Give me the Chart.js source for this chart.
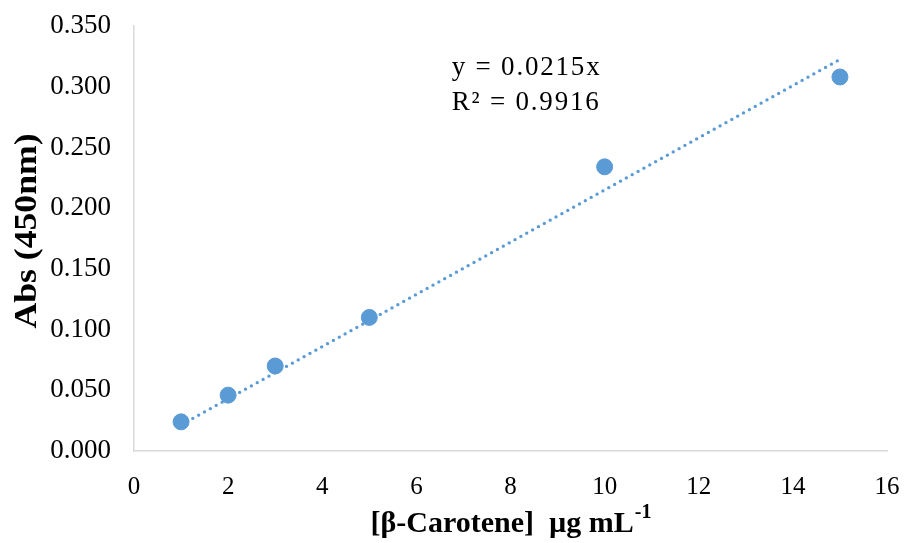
<!DOCTYPE html>
<html>
<head>
<meta charset="utf-8">
<script src="https://cdn.jsdelivr.net/npm/chart.js@4"></script>
<style>
  html, body { margin: 0; padding: 0; background: #fff; }
  #wrap { width: 909px; height: 543px; }
</style>
</head>
<body>
<div id="wrap"><canvas id="c" width="909" height="543"></canvas></div>
<script>
// β-carotene calibration data
const concentrations = [1, 2, 3, 5, 10, 15];                    // µg/mL
const absorbances = [0.024, 0.046, 0.070, 0.110, 0.234, 0.308]; // Abs at 450 nm
const slope = 0.0215;
const rSquared = 0.9916;
const trendX = [1, 15];
const xTicks = [0, 2, 4, 6, 8, 10, 12, 14, 16];
const yTicks = [0, 0.05, 0.1, 0.15, 0.2, 0.25, 0.3, 0.35];

const blue = '#5B9BD5';
const serif = '"Liberation Serif", "Times New Roman", serif';

const points = concentrations.map((x, i) => ({ x, y: absorbances[i] }));
const trend = trendX.map(x => ({ x, y: slope * x }));

// axis titles and the regression equation
const annotations = {
  id: 'annotations',
  afterDraw(chart) {
    const { ctx, chartArea } = chart;
    const xs = chart.scales.x;
    ctx.save();
    ctx.fillStyle = '#000';

    // regression equation
    const left = xs.getPixelForValue(6.75);
    ctx.font = '27px ' + serif;
    ctx.textAlign = 'left';
    ctx.textBaseline = 'alphabetic';
    ctx.letterSpacing = '1.8px';
    ctx.fillText('y = ' + slope.toFixed(4) + 'x', left, 75);
    ctx.fillText('R² = ' + rSquared.toFixed(4), left, 110);
    ctx.letterSpacing = '0px';

    // y axis title, slightly stretched along its length
    ctx.font = 'bold 31px ' + serif;
    ctx.textAlign = 'center';
    ctx.textBaseline = 'middle';
    ctx.translate(28, 231);
    ctx.rotate(-Math.PI / 2);
    ctx.scale(1.15, 1);
    ctx.fillText('Abs (450nm)', 0, 0);
    ctx.setTransform(1, 0, 0, 1, 0, 0);

    // x axis title with superscript
    const main = '[β-Carotene]  µg mL';
    const sup = '-1';
    ctx.font = 'bold 30px ' + serif;
    const wMain = ctx.measureText(main).width;
    ctx.font = 'bold 20px ' + serif;
    const wSup = ctx.measureText(sup).width;
    const cx = (chartArea.left + chartArea.right) / 2;
    const startX = cx - (wMain + wSup) / 2;
    ctx.textAlign = 'left';
    ctx.textBaseline = 'alphabetic';
    ctx.font = 'bold 30px ' + serif;
    ctx.fillText(main, startX, 532);
    ctx.font = 'bold 20px ' + serif;
    ctx.fillText(sup, startX + wMain + 1, 518);
    ctx.restore();
  }
};

new Chart(document.getElementById('c'), {
  type: 'scatter',
  data: {
    datasets: [
      {
        label: 'Abs',
        data: points,
        backgroundColor: blue,
        borderColor: blue,
        pointRadius: 8,
        pointHoverRadius: 8,
        order: 1
      },
      {
        label: 'Linear fit',
        type: 'line',
        data: trend,
        borderColor: blue,
        borderWidth: 3.4,
        borderDash: [0, 6.7],
        borderCapStyle: 'round',
        pointRadius: 0,
        fill: false,
        order: 2
      }
    ]
  },
  plugins: [annotations],
  options: {
    responsive: false,
    animation: false,
    layout: { padding: { top: 26, right: 22, bottom: 0, left: 0 } },
    plugins: {
      legend: { display: false },
      tooltip: { enabled: false }
    },
    scales: {
      x: {
        type: 'linear',
        min: 0, max: 16,
        afterBuildTicks(scale) { scale.ticks = xTicks.map(v => ({ value: v })); },
        afterFit(scale) {
          scale.height = 92;
          scale.paddingLeft = 0;
          scale.paddingRight = 0;
        },
        grid: { display: false, drawTicks: false },
        border: { color: '#d9d9d9', width: 1.5 },
        ticks: { color: '#000', font: { family: serif, size: 25 }, padding: 21, maxRotation: 0 }
      },
      y: {
        type: 'linear',
        min: 0, max: 0.35,
        afterBuildTicks(scale) { scale.ticks = yTicks.map(v => ({ value: v })); },
        afterFit(scale) {
          scale.width = 134;
          scale.paddingTop = 0;
          scale.paddingBottom = 0;
        },
        grid: { display: false, drawTicks: false },
        border: { color: '#d9d9d9', width: 1.5 },
        ticks: {
          color: '#000',
          font: { family: serif, size: 27 },
          padding: 23,
          callback: v => Number(v).toFixed(3)
        }
      }
    }
  }
});
</script>
</body>
</html>
